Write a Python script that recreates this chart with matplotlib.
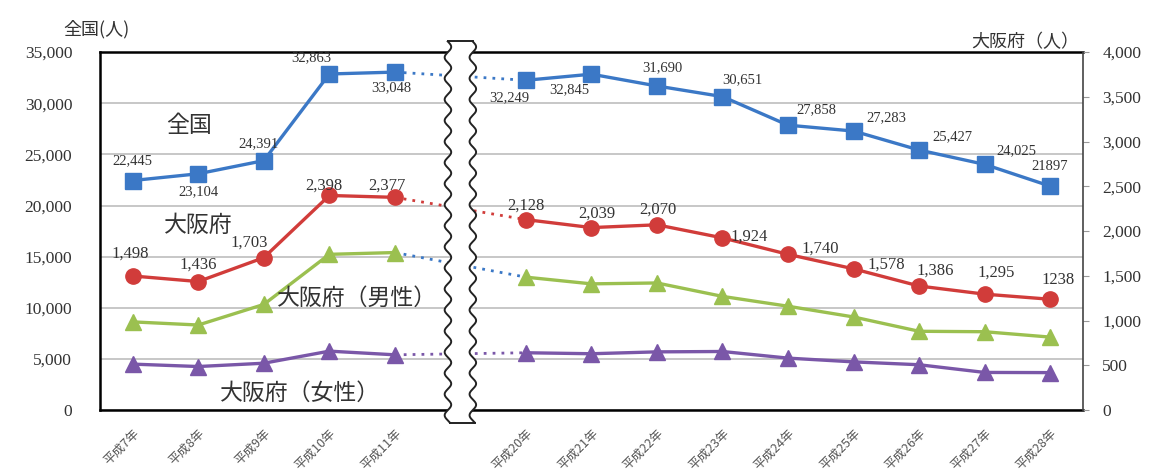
import numpy as np
import matplotlib
matplotlib.use("Agg")
import matplotlib.pyplot as plt
from matplotlib.patches import Polygon

plt.rcParams['font.family'] = ['Noto Sans CJK JP', 'DejaVu Sans']

# data
years = ["平成7年", "平成8年", "平成9年", "平成10年", "平成11年",
         "平成20年", "平成21年", "平成22年", "平成23年", "平成24年",
         "平成25年", "平成26年", "平成27年", "平成28年"]
zenkoku = [22445, 23104, 24391, 32863, 33048,
           32249, 32845, 31690, 30651, 27858, 27283, 25427, 24025, 21897]
osaka = [1498, 1436, 1703, 2398, 2377,
         2128, 2039, 2070, 1924, 1740, 1578, 1386, 1295, 1238]
osaka_male = [985, 950, 1180, 1740, 1760,
              1485, 1410, 1420, 1270, 1160, 1040, 880, 875, 815]
osaka_female = [513, 486, 523, 658, 617,
                640, 629, 650, 654, 580, 538, 506, 420, 418]
zenkoku_labels = ["22,445", "23,104", "24,391", "32,863", "33,048", "32,249", "32,845",
                  "31,690", "30,651", "27,858", "27,283", "25,427", "24,025", "21897"]
osaka_labels = ["1,498", "1,436", "1,703", "2,398", "2,377", "2,128", "2,039",
                "2,070", "1,924", "1,740", "1,578", "1,386", "1,295", "1238"]

# x slots: one empty slot for the break
xpos = list(range(5)) + list(range(6, 15))

BLUE = "#3b78c6"
RED = "#d13c3a"
GREEN = "#9bc050"
PURPLE = "#7a57a8"
SERIF = ['Liberation Serif', 'DejaVu Serif']

fig = plt.figure(figsize=(11.52, 4.74), dpi=100)
ax = fig.add_axes([0.0868, 0.135, 0.8532, 0.755])
ax2 = ax.twinx()

ax.set_xlim(-0.5, 14.5)
ax.set_ylim(0, 35000)
ax2.set_ylim(0, 4000)
ax.set_yticks(range(0, 35001, 5000))
ax2.set_yticks(range(0, 4001, 500))
ax.yaxis.set_major_formatter(matplotlib.ticker.FuncFormatter(lambda v, p: f"{int(v):,}"))
ax2.yaxis.set_major_formatter(matplotlib.ticker.FuncFormatter(lambda v, p: f"{int(v):,}"))
for t in ax.get_yticklabels() + ax2.get_yticklabels():
    t.set_family(SERIF)
    t.set_fontsize(12.5)
    t.set_color("#333333")
ax.tick_params(axis='y', length=0, pad=20)
ax2.tick_params(axis='y', length=4, color="#999999", pad=10)

ax.grid(axis='y', color="#bdbdbd", linewidth=1.2)
ax.set_axisbelow(True)
ax.set_xticks(xpos)
ax.set_xticklabels(years, rotation=45, ha='right', rotation_mode='anchor', fontsize=9, color="#555555")
ax.tick_params(axis='x', length=0, pad=12)

for s in ['top', 'left', 'bottom']:
    ax.spines[s].set_linewidth(1.8)
    ax2.spines[s].set_visible(False)
ax2.spines['right'].set_linewidth(1.2)
ax2.spines['right'].set_color("#444444")
ax.spines['right'].set_visible(False)


def draw(axis, vals, color, marker, ms, dot_color):
    axis.plot(xpos[:5], vals[:5], color=color, lw=2.4, marker=marker, ms=ms, zorder=4)
    axis.plot(xpos[5:], vals[5:], color=color, lw=2.4, marker=marker, ms=ms, zorder=4)
    axis.plot(xpos[4:6], vals[4:6], color=dot_color, lw=2.0, ls=(0, (1, 2.2)), zorder=3)


draw(ax, zenkoku, BLUE, 's', 11, BLUE)
draw(ax2, osaka, RED, 'o', 11, RED)
draw(ax2, osaka_male, GREEN, '^', 11, BLUE)
draw(ax2, osaka_female, PURPLE, '^', 11, PURPLE)

# data labels (offsets in pixels)
z_off = [(0, 20), (0, -18), (-5, 17), (-18, 16), (-4, -16), (-17, -17), (-22, -16),
         (5, 18), (20, 17), (28, 15), (33, 13), (33, 13), (32, 14), (0, 20)]
o_off = [(-3, 22), (0, 17), (-15, 15), (-5, 10), (-8, 12), (0, 14), (5, 14),
         (1, 15), (27, 1), (32, 6), (33, 4), (16, 15), (12, 22), (8, 19)]
for x, v, s, o in zip(xpos, zenkoku, zenkoku_labels, z_off):
    ax.annotate(s, (x, v), xytext=o, textcoords='offset pixels', ha='center', va='center',
                fontsize=10.5, family=SERIF, color="#333333", zorder=6)
for x, v, s, o in zip(xpos, osaka, osaka_labels, o_off):
    ax2.annotate(s, (x, v), xytext=o, textcoords='offset pixels', ha='center', va='center',
                 fontsize=12, family=SERIF, color="#333333", zorder=6)

# series names
name_kw = dict(fontsize=16.5, color="#333333", ha='center', va='center')
fig.text(189 / 1152, 1 - 125 / 474, "全国", **name_kw)
fig.text(198 / 1152, 1 - 225 / 474, "大阪府", **name_kw)
fig.text(357 / 1152, 1 - 298 / 474, "大阪府（男性）", **name_kw)
fig.text(300 / 1152, 1 - 393 / 474, "大阪府（女性）", **name_kw)
fig.text(96 / 1152, 1 - 29 / 474, "全国(人)", fontsize=13, color="#333333", ha='center', va='center')
fig.text(1025 / 1152, 1 - 42 / 474, "大阪府（人）", fontsize=13, color="#333333", ha='center', va='center')

# break symbol
yy = np.linspace(-0.035, 1.03, 400)
wave = 0.05 * np.sin(yy * 2 * np.pi * 17)
left_x = 5 - 0.19 + wave
right_x = 5 + 0.19 + wave
poly = np.vstack([np.column_stack([left_x, yy]), np.column_stack([right_x[::-1], yy[::-1]])])
trans = matplotlib.transforms.blended_transform_factory(ax.transData, ax.transAxes)
ax2.add_patch(Polygon(poly, closed=True, facecolor='white', edgecolor='none',
                      transform=trans, clip_on=False, zorder=10))
ax2.plot(left_x, yy, color='#222222', lw=1.4, transform=trans, clip_on=False, zorder=11)
ax2.plot(right_x, yy, color='#222222', lw=1.4, transform=trans, clip_on=False, zorder=11)
ax2.plot([left_x[0], right_x[0]], [yy[0], yy[0]], color='#222222', lw=1.4, transform=trans, clip_on=False, zorder=11)
ax2.plot([left_x[-1], right_x[-1]], [yy[-1], yy[-1]], color='#222222', lw=1.4, transform=trans, clip_on=False, zorder=11)

fig.savefig("out.png", dpi=100)
